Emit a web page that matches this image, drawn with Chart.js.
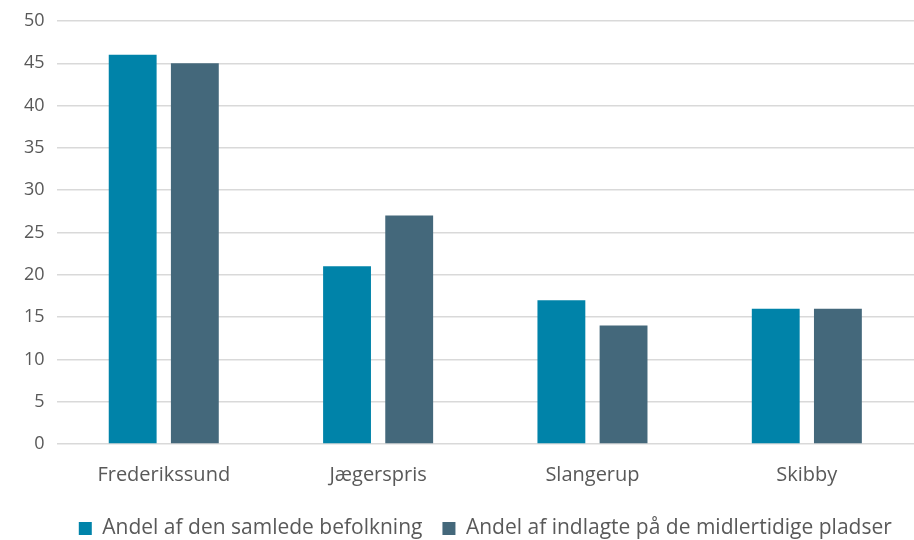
<!DOCTYPE html>
<html>
<head>
<meta charset="utf-8">
<script src="https://cdn.jsdelivr.net/npm/chart.js@4"></script>
<style>
    html, body { margin: 0; padding: 0; background: #fff; }
    #wrap { width: 914px; height: 540px; position: relative; }
</style>
</head>
<body>
<div id="wrap"><canvas id="chart"></canvas></div>
<script>
// Data
const categories = ["Frederikssund", "Jægerspris", "Slangerup", "Skibby"];
const befolkning = [46, 21, 17, 16];
const indlagte = [45, 27, 14, 16];
const seriesNames = ["Andel af den samlede befolkning", "Andel af indlagte på de midlertidige pladser"];

const textColor = "#595959";
const fontFamily = "'Open Sans', sans-serif";

const ctx = document.getElementById("chart").getContext("2d");

new Chart(ctx, {
    type: "bar",
    data: {
        labels: categories,
        datasets: [{
            label: seriesNames[0],
            data: befolkning,
            backgroundColor: "#0083A9",
            categoryPercentage: 0.58,
            barPercentage: 0.77
        }, {
            label: seriesNames[1],
            data: indlagte,
            backgroundColor: "#44687B",
            categoryPercentage: 0.58,
            barPercentage: 0.77
        }]
    },
    options: {
        responsive: true,
        maintainAspectRatio: false,
        animation: false,
        // negative bottom padding pushes the legend row closer to the edge
        layout: { padding: { top: 0, right: 0, left: 12, bottom: -9 } },
        scales: {
            x: {
                grid: { display: false },
                border: { display: false },
                ticks: { color: textColor, font: { family: fontFamily, size: 20, lineHeight: 0.4 }, padding: 19 }
            },
            y: {
                min: 0,
                max: 50,
                ticks: { stepSize: 5, color: textColor, font: { family: fontFamily, size: 18, lineHeight: 1 }, padding: 12 },
                grid: { color: "#d9d9d9", lineWidth: 1.5, drawTicks: false },
                border: { display: false }
            }
        },
        plugins: {
            legend: {
                position: "bottom",
                fullSize: false, // center under the plot area, not the whole canvas
                labels: {
                    color: textColor,
                    font: { family: fontFamily, size: 21 },
                    boxWidth: 13,
                    boxHeight: 13,
                    padding: 20
                }
            },
            tooltip: { enabled: false }
        }
    }
});
</script>
</body>
</html>
